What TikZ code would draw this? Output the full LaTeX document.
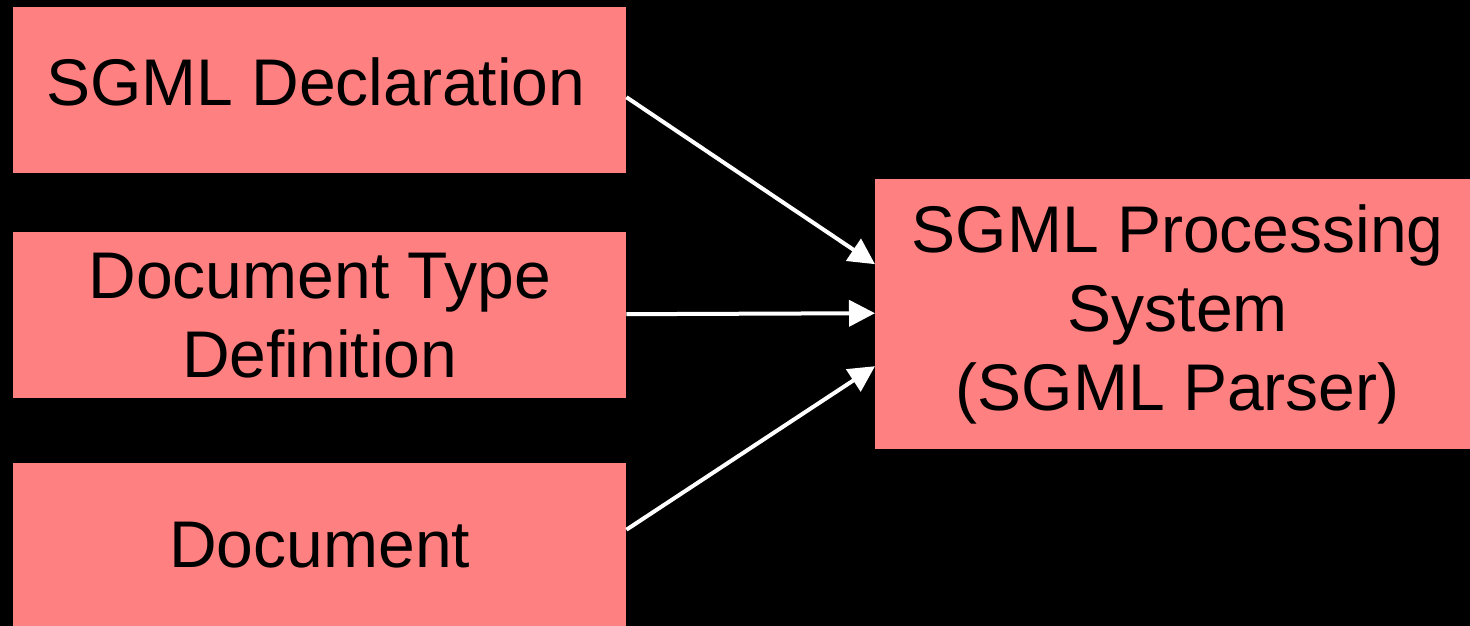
\documentclass[tikz,border=0pt]{standalone}
\usepackage{fontspec}
\setmainfont{Liberation Sans}
\usetikzlibrary{arrows.meta}
\definecolor{boxred}{HTML}{FF8080}
\tikzset{
  box/.style={fill=boxred, draw=none, inner sep=0pt, align=center,
    font=\fontsize{66}{79}\selectfont, text=black},
  conn/.style={draw=white, line width=4pt, -{Triangle[length=26pt,width=26pt]}}
}
\begin{document}
\begin{tikzpicture}[x=1pt,y=1pt]
\fill[black] (0,0) rectangle (1470,-626);
\useasboundingbox (0,0) rectangle (1470,-626);
\node[box, minimum width=613pt, minimum height=166pt, anchor=north west] (decl) at (13,-7) {\raisebox{17pt}{SGML Declaration}\hspace*{8pt}};
\node[box, minimum width=613pt, minimum height=166pt, anchor=north west] (dtd) at (13,-232) {Document Type\\Definition};
\node[box, minimum width=613pt, minimum height=163pt, anchor=north west] (doc) at (13,-463) {Document};
\node[box, minimum width=595pt, minimum height=270pt, anchor=north west] (sps) at (875,-179) {\hspace*{10pt}SGML Processing\\\hspace*{10pt}System\\\hspace*{10pt}(SGML Parser)};
\draw[conn] ([yshift=-7pt]decl.east) -- ([yshift=50pt]sps.west);
\draw[conn] ([yshift=1pt]dtd.east) -- ([yshift=1pt]sps.west);
\draw[conn] ([yshift=15pt]doc.east) -- ([yshift=-52pt]sps.west);
\end{tikzpicture}
\end{document}
